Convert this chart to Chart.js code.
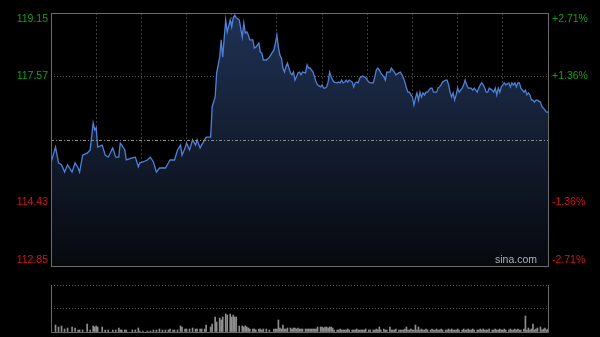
<!DOCTYPE html>
<html>
<head>
<meta charset="utf-8">
<script src="https://cdn.jsdelivr.net/npm/chart.js@4.4.1/dist/chart.umd.min.js"></script>
<style>
  html, body { margin: 0; padding: 0; background: #000; }
  #wrap { position: relative; width: 600px; height: 337px; overflow: hidden; }
  canvas { position: absolute; left: 0; }
  #price { top: 0; }
  #vol { top: 275px; }
</style>
</head>
<body>
<div id="wrap">
  <canvas id="price" width="600" height="275"></canvas>
  <canvas id="vol" width="600" height="62"></canvas>
</div>
<script>
// minutes since the open (HK session, 330 min)
const minutes = [
  0,3,5,7,9,11,14,16,18,19,21,24,26,28,29,30,31,34,36,38,41,43,45,46,47,49,50,54,56,58,
  59,61,64,66,68,70,72,74,76,78,79,81,82,84,86,87,89,90,92,94,96,97,99,100,102,
  103,106,107,109,110,112,113,114,116,117,119,120,121,122,123,125,127,128,129,130,
  131,132,134,135,136,138,139,140,141,143,145,148,149,150,151,152,153,154,155,156,
  157,159,160,161,162,163,164,165,166,167,169,170,171,172,173,174,175,176,177,179,
  180,181,182,183,184,185,186,187,188,190,191,192,193,194,195,196,197,198,200,201,
  202,203,204,205,206,207,208,209,211,212,214,215,216,217,218,219,221,222,223,225,
  226,227,228,229,231,232,
  233,234,235,236,237,238,239,240,241,242,243,244,245,246,247,248,249,250,252,253,
  254,255,256,257,258,259,260,262,263,264,265,266,267,268,269,270,271,273,274,275,
  276,277,278,279,280,281,283,284,285,286,287,288,289,290,291,293,294,295,296,297,
  298,299,300,301,302,304,305,306,307,308,309,310,311,312,314,315,316,317,318,319,
  320,321,322,323,325,326,327,328,329,330
];

const prices = [
  115.42,115.81,115.42,115.37,115.19,115.37,115.19,115.42,115.29,115.19,
  115.61,115.66,115.74,116.41,116.24,116.29,115.81,115.86,115.61,115.56,
  115.79,115.56,115.56,115.91,115.86,115.74,115.49,115.54,115.56,115.32,
  115.42,115.44,115.49,115.56,115.44,115.19,115.29,115.29,115.29,115.42,
  115.49,115.49,115.49,115.74,115.86,115.61,115.79,115.91,115.74,115.99,
  115.86,115.99,115.79,115.86,115.99,
  116.06,116.06,116.81,117.06,117.66,118.05,118.48,118.05,118.98,118.68,
  118.98,118.80,119.03,119.10,119.03,118.98,118.55,118.90,118.65,118.68,
  118.60,118.48,118.48,118.28,118.30,118.40,118.18,118.15,117.98,117.98,
  118.05,118.23,118.40,118.60,118.30,118.10,118.03,117.78,117.68,117.81,
  117.90,117.66,117.61,117.68,117.48,117.56,117.66,117.68,117.61,117.68,
  117.66,117.86,117.78,117.78,117.73,117.68,117.56,117.43,117.36,117.31,
  117.36,117.28,117.28,117.31,117.43,117.68,117.56,117.48,117.43,117.41,
  117.43,117.41,117.48,117.41,117.43,117.48,117.43,117.48,117.43,117.31,
  117.41,117.43,117.41,117.53,117.56,117.58,117.56,117.53,117.43,117.41,
  117.41,117.56,117.73,117.78,117.73,117.66,117.56,117.48,117.68,117.68,
  117.78,117.73,117.68,117.61,117.66,117.68,
  117.61,117.53,117.43,117.28,117.18,117.18,117.11,117.06,116.86,117.03,
  117.16,116.98,117.18,117.06,117.16,117.11,117.18,117.18,117.28,117.28,
  117.18,117.18,117.18,117.28,117.31,117.36,117.43,117.48,117.48,117.36,
  117.18,117.06,117.16,116.98,117.11,117.28,117.18,117.28,117.36,117.48,
  117.36,117.28,117.28,117.28,117.23,117.28,117.18,117.28,117.36,117.41,
  117.36,117.28,117.18,117.18,117.28,117.23,117.18,117.28,117.11,117.28,
  117.18,117.31,117.36,117.41,117.36,117.41,117.31,117.41,117.36,117.41,
  117.31,117.41,117.41,117.28,117.18,117.23,117.11,117.16,117.11,116.98,
  116.98,116.93,116.98,116.98,116.93,116.81,116.78,116.73,116.68,116.68
];

const volumes = [
  14,7,5,6,3,4,5,4,2,2,2,8,2,6,5,6,5,5,2,2,2,2,4,2,2,2,2,2,2,4,
  1,1,1,1,2,2,3,2,2,2,3,2,2,2,6,5,3,3,3,4,3,3,3,3,3,
  7,5,8,15,10,14,12,15,18,17,18,15,17,15,15,6,6,5,6,5,
  4,3,3,3,2,3,3,2,3,3,2,3,3,3,12,4,3,7,3,3,
  4,4,3,4,4,3,4,3,3,3,3,3,3,3,3,3,3,3,5,5,
  5,4,5,5,4,5,5,4,2,2,2,3,2,2,2,2,3,2,2,2,
  2,3,2,2,2,2,2,3,2,2,2,2,3,2,5,2,3,2,2,5,
  2,2,2,3,2,2,
  2,2,3,5,2,2,3,2,2,7,2,5,2,3,2,2,3,2,2,3,
  2,2,3,2,2,3,2,2,2,3,2,3,2,2,2,3,2,2,3,2,
  2,3,2,2,3,2,2,2,3,2,3,2,2,2,3,2,2,3,2,2,
  3,2,2,3,2,2,3,2,2,3,2,3,2,2,3,16,2,4,2,3,
  8,2,3,4,5,2,3,4,2,3
];

const prevClose = 116.00;
const priceTicks = [119.15, 117.57, 116.00, 114.43, 112.85];
const leftLabels = ['119.15', '117.57', '', '114.43', '112.85'];
const rightLabels = ['+2.71%', '+1.36%', '', '-1.36%', '-2.71%'];

if (minutes.length !== prices.length || minutes.length !== volumes.length) {
  throw new Error('length mismatch ' + minutes.length + ' ' + prices.length + ' ' + volumes.length);
}

const UP = '#14a014';
const DOWN = '#d01818';
const FONT = '10.5px "Liberation Sans", Arial, sans-serif';

// frame, prev close line and side labels
const priceDecor = {
  id: 'priceDecor',
  afterDraw(chart) {
    const { ctx, chartArea: a, scales } = chart;
    ctx.save();
    // prev close line
    const yc = Math.round(scales.y.getPixelForValue(prevClose)) + 0.5;
    ctx.strokeStyle = '#8a8a8a';
    ctx.lineWidth = 1;
    ctx.setLineDash([3, 2, 1, 2]);
    ctx.beginPath();
    ctx.moveTo(a.left, yc);
    ctx.lineTo(a.right, yc);
    ctx.stroke();
    ctx.setLineDash([]);
    // frame
    ctx.strokeStyle = '#6a6a6a';
    ctx.strokeRect(Math.round(a.left) + 0.5, Math.round(a.top) + 0.5,
      Math.round(a.right - a.left), Math.round(a.bottom - a.top));
    // labels
    ctx.font = FONT;
    ctx.textBaseline = 'middle';
    priceTicks.forEach((v, i) => {
      if (!leftLabels[i]) return;
      let y = scales.y.getPixelForValue(v);
      y = Math.max(a.top + 6, Math.min(a.bottom - 6, y));
      ctx.fillStyle = v > prevClose ? UP : DOWN;
      ctx.textAlign = 'right';
      ctx.fillText(leftLabels[i], a.left - 3, y);
      ctx.textAlign = 'left';
      ctx.fillText(rightLabels[i], a.right + 4, y);
    });
    // watermark
    ctx.fillStyle = '#b0b0b0';
    ctx.font = '10.5px "Liberation Sans", Arial, sans-serif';
    ctx.textAlign = 'right';
    ctx.fillText('sina.com', a.right - 11, a.bottom - 6);
    ctx.restore();
  }
};

new Chart(document.getElementById('price').getContext('2d'), {
  type: 'line',
  data: {
    datasets: [{
      data: minutes.map((m, i) => ({ x: m, y: prices[i] })),
      borderColor: '#4f80d8',
      borderWidth: 1.3,
      pointRadius: 0,
      tension: 0,
      fill: 'start',
      backgroundColor: (c) => {
        const a = c.chart.chartArea;
        if (!a) return 'transparent';
        const g = c.chart.ctx.createLinearGradient(0, a.top, 0, a.bottom);
        g.addColorStop(0, '#1f3254');
        g.addColorStop(1, '#07090e');
        return g;
      }
    }]
  },
  options: {
    responsive: false,
    animation: false,
    layout: { padding: { left: 51, right: 52, top: 13, bottom: 9 } },
    plugins: { legend: { display: false }, tooltip: { enabled: false } },
    scales: {
      x: {
        type: 'linear', min: 0, max: 330,
        ticks: { display: false, stepSize: 30 },
        grid: {
          drawTicks: false,
          color: (c) => (c.tick.value === 0 || c.tick.value === 330) ? 'transparent' : '#3e3e3e'
        },
        border: { display: false, dash: [2, 2] },
        afterFit: (s) => { s.height = 0; }
      },
      y: {
        min: 112.85, max: 119.15,
        afterBuildTicks: (s) => { s.ticks = priceTicks.map(v => ({ value: v })); },
        ticks: { display: false },
        grid: {
          drawTicks: false,
          color: (c) => (c.tick.value === 114.43 || c.tick.value === 117.57) ? '#5a5a5a' : 'transparent'
        },
        border: { display: false, dash: [1, 2] },
        afterFit: (s) => { s.width = 0; }
      }
    }
  },
  plugins: [priceDecor]
});

const volDecor = {
  id: 'volDecor',
  afterDraw(chart) {
    const { ctx, chartArea: a } = chart;
    ctx.save();
    ctx.strokeStyle = '#6a6a6a';
    ctx.lineWidth = 1;
    const l = Math.round(a.left) + 0.5, r = Math.round(a.right) + 0.5;
    const t = Math.round(a.top), b = Math.round(a.bottom) + 0.5;
    ctx.beginPath();
    ctx.moveTo(l, t); ctx.lineTo(l, b); ctx.lineTo(r, b); ctx.lineTo(r, t);
    ctx.stroke();
    ctx.restore();
  }
};

new Chart(document.getElementById('vol').getContext('2d'), {
  type: 'bar',
  data: {
    datasets: [{
      data: minutes.map((m, i) => ({ x: m, y: volumes[i] })),
      backgroundColor: '#8e8e8e',
      barThickness: 1
    }]
  },
  options: {
    responsive: false,
    animation: false,
    layout: { padding: { left: 51, right: 52, top: 10, bottom: 5 } },
    plugins: { legend: { display: false }, tooltip: { enabled: false } },
    scales: {
      x: {
        type: 'linear', min: 0, max: 330, offset: false,
        ticks: { display: false },
        grid: { display: false },
        border: { display: false },
        afterFit: (s) => { s.height = 0; }
      },
      y: {
        min: 0, max: 47,
        afterBuildTicks: (s) => { s.ticks = [0, 23.5, 47].map(v => ({ value: v })); },
        ticks: { display: false },
        grid: {
          drawTicks: false,
          color: (c) => c.tick.value === 0 ? 'transparent' : '#5a5a5a'
        },
        border: { display: false, dash: [1, 2] },
        afterFit: (s) => { s.width = 0; }
      }
    }
  },
  plugins: [volDecor]
});
</script>
</body>
</html>
